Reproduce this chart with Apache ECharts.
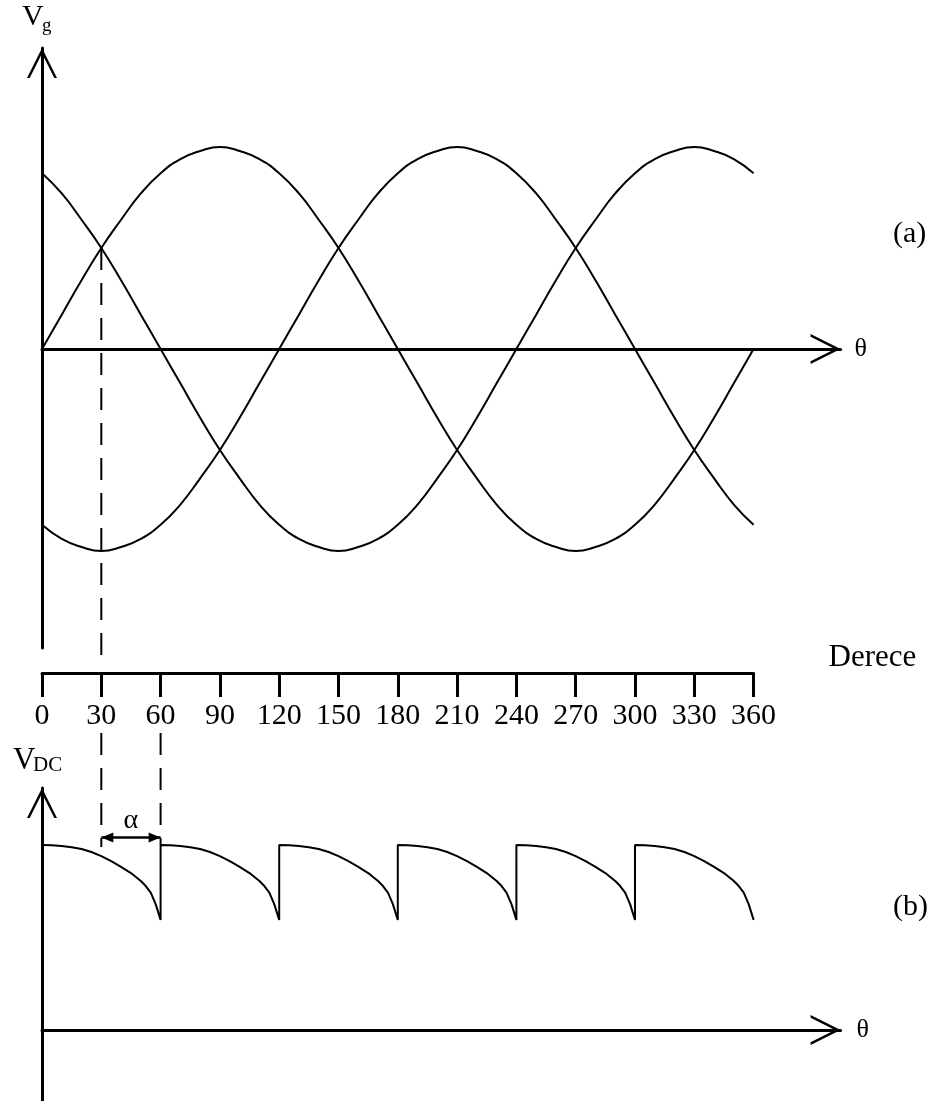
<!DOCTYPE html>
<html>
<head>
<meta charset="utf-8">
<script src="https://cdn.jsdelivr.net/npm/echarts@6/dist/echarts.min.js"></script>
<style>
  html, body { margin: 0; padding: 0; background: #fff; }
  #chart { width: 935px; height: 1101px; }
</style>
</head>
<body>
<div id="chart"></div>
<script>
// Angle samples (degrees) for the three phase voltages
const degrees = [0,10,20,30,40,50,60,70,80,90,100,110,120,130,140,150,160,170,180,
                 190,200,210,220,230,240,250,260,270,280,290,300,310,320,330,340,350,360];

// Phase voltages, normalised to the peak
const phaseA = [0,.17,.34,.5,.64,.77,.87,.94,.98,1,.98,.94,.87,.77,.64,.5,.34,.17,0,
                -.17,-.34,-.5,-.64,-.77,-.87,-.94,-.98,-1,-.98,-.94,-.87,-.77,-.64,-.5,-.34,-.17,0];
const phaseB = [-.87,-.94,-.98,-1,-.98,-.94,-.87,-.77,-.64,-.5,-.34,-.17,0,.17,.34,.5,.64,.77,.87,
                .94,.98,1,.98,.94,.87,.77,.64,.5,.34,.17,0,-.17,-.34,-.5,-.64,-.77,-.87];
const phaseC = [.87,.77,.64,.5,.34,.17,0,-.17,-.34,-.5,-.64,-.77,-.87,-.94,-.98,-1,-.98,-.94,-.87,
                -.77,-.64,-.5,-.34,-.17,0,.17,.34,.5,.64,.77,.87,.94,.98,1,.98,.94,.87];

// Degree scale tick labels
const degreeTicks = [0,30,60,90,120,150,180,210,240,270,300,330,360];

// Rectified output: one 60-degree pulse, repeated at each commutation
const pulseStarts = [0,60,120,180,240,300];
const pulseDeg = [0,5,10,15,20,25,30,35,40,45,50,52.5,55,57.5,60];
const pulseVal = [1.0,0.998,0.994,0.988,0.978,0.962,0.94,0.913,0.882,0.848,0.805,0.778,0.742,0.68,0.595];

// Firing angle marker
const crossDeg = 30, crossVal = 0.5;
const alphaFrom = 30, alphaTo = 60, alphaLevel = 1.04;

const FONT = "'Liberation Serif','Times New Roman',serif";
const LEFT = 42;
const PX_PER_DEG = 711.6 / 360;
const AXIS_MAX = 404;
const AXIS_W = AXIS_MAX * PX_PER_DEG;

const chevron = 'path://M15,0 L30,30 L27.3,30 L15,5.6 L2.7,30 L0,30 Z';

function arrowLine() {
  return {
    show: true, onZero: true,
    symbol: ['none', chevron], symbolSize: [32, 30], symbolOffset: [0, -15],
    lineStyle: { color: '#000', width: 3 }
  };
}
function plainAxis(extra) {
  return Object.assign({
    type: 'value',
    axisLine: arrowLine(),
    axisTick: { show: false },
    axisLabel: { show: false },
    splitLine: { show: false }
  }, extra);
}

const pairs = vals => degrees.map((d, i) => [d, vals[i]]);

const dcData = [];
pulseStarts.forEach(s => pulseDeg.forEach((d, i) => dcData.push([s + d, pulseVal[i]])));

const curveStyle = { color: '#000', width: 2 };

const chart = echarts.init(document.getElementById('chart'));
chart.setOption({
  animation: false,
  backgroundColor: '#fff',
  grid: [
    { left: LEFT, top: 48, width: AXIS_W, height: 600 },
    { left: LEFT, top: 600, width: 360 * PX_PER_DEG, height: 73 },
    { left: LEFT, top: 788, width: AXIS_W, height: 313 }
  ],
  xAxis: [
    plainAxis({ gridIndex: 0, min: 0, max: AXIS_MAX, name: 'θ', nameGap: 14,
      nameTextStyle: { fontFamily: FONT, fontSize: 26, color: '#000' } }),
    {
      gridIndex: 1, type: 'value', min: 0, max: 360, position: 'bottom',
      axisLine: { onZero: false, lineStyle: { color: '#000', width: 3 } },
      axisTick: { length: 24, customValues: degreeTicks, lineStyle: { color: '#000', width: 3 } },
      axisLabel: { customValues: degreeTicks, margin: 28, fontFamily: FONT, fontSize: 30, color: '#000' },
      splitLine: { show: false },
      name: 'Derece', nameLocation: 'end', nameGap: 75,
      nameTextStyle: { fontFamily: FONT, fontSize: 31, color: '#000', align: 'left', verticalAlign: 'bottom' }
    },
    plainAxis({ gridIndex: 2, min: 0, max: AXIS_MAX, name: 'θ', nameGap: 16,
      nameTextStyle: { fontFamily: FONT, fontSize: 26, color: '#000' } })
  ],
  yAxis: [
    plainAxis({ gridIndex: 0, min: -1.48, max: 1.49 }),
    { gridIndex: 1, show: false, min: 0, max: 1 },
    plainAxis({ gridIndex: 2, min: -0.384, max: 1.308 })
  ],
  series: [
    { type: 'line', xAxisIndex: 0, yAxisIndex: 0, data: pairs(phaseA), smooth: true, showSymbol: false, lineStyle: curveStyle },
    { type: 'line', xAxisIndex: 0, yAxisIndex: 0, data: pairs(phaseB), smooth: true, showSymbol: false, lineStyle: curveStyle },
    { type: 'line', xAxisIndex: 0, yAxisIndex: 0, data: pairs(phaseC), smooth: true, showSymbol: false, lineStyle: curveStyle },
    { type: 'line', xAxisIndex: 2, yAxisIndex: 2, data: dcData, showSymbol: false, lineStyle: curveStyle }
  ]
});

// Guide lines, firing-angle arrow and panel labels
const px = (g, p) => chart.convertToPixel({ gridIndex: g }, p);
const cross = px(0, [crossDeg, crossVal]);
const scaleY = px(1, [0, 0])[1];
const xA = px(1, [alphaFrom, 0])[0];
const xB = px(1, [alphaTo, 0])[0];
const pulseTop = px(2, [alphaTo, pulseVal[0]])[1];
const arrowY = px(2, [alphaFrom, alphaLevel])[1];

const dash = { stroke: '#000', lineWidth: 2, lineDash: [22, 13] };
const txt = (text, x, y, size, align) => ({
  type: 'text', silent: true,
  style: { text, x, y, fill: '#000', font: size + 'px ' + FONT,
           align: align || 'left', textAlign: align || 'left',
           verticalAlign: 'middle', textVerticalAlign: 'middle' }
});

chart.setOption({
  graphic: [
    { type: 'line', silent: true, shape: { x1: xA, y1: cross[1], x2: xA, y2: scaleY - 10 }, style: dash },
    { type: 'line', silent: true, shape: { x1: xA, y1: scaleY + 60, x2: xA, y2: pulseTop + 2 }, style: dash },
    { type: 'line', silent: true, shape: { x1: xB, y1: scaleY + 60, x2: xB, y2: pulseTop }, style: dash },
    { type: 'line', silent: true, shape: { x1: xA, y1: arrowY, x2: xB, y2: arrowY },
      style: { stroke: '#000', lineWidth: 2.5 } },
    { type: 'polygon', silent: true, shape: { points: [[xA, arrowY], [xA + 12, arrowY - 5], [xA + 12, arrowY + 5]] },
      style: { fill: '#000' } },
    { type: 'polygon', silent: true, shape: { points: [[xB, arrowY], [xB - 12, arrowY - 5], [xB - 12, arrowY + 5]] },
      style: { fill: '#000' } },
    txt('α', (xA + xB) / 2, arrowY - 17, 28, 'center'),
    txt('V', 22, 17.5, 30),
    txt('g', 42, 26, 19),
    txt('V', 13, 761, 31),
    txt('DC', 33, 765, 21),
    txt('(a)', 893, 234, 30),
    txt('(b)', 893, 907, 30)
  ]
});
</script>
</body>
</html>
